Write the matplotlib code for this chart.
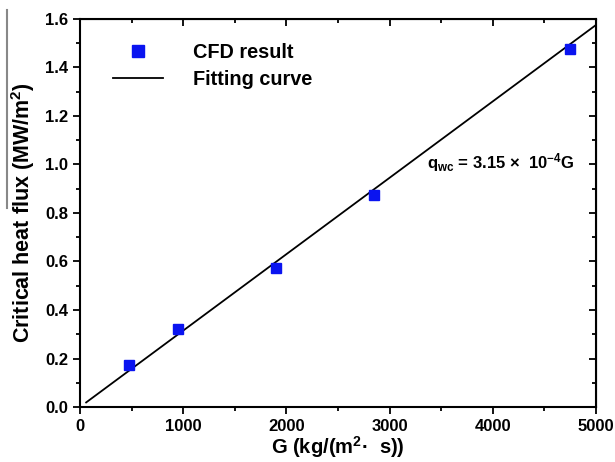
import matplotlib
matplotlib.use('Agg')
import matplotlib.pyplot as plt
from matplotlib.lines import Line2D
from matplotlib.ticker import MultipleLocator

plt.rcParams['font.family'] = ['Liberation Sans', 'DejaVu Sans']
plt.rcParams['font.weight'] = 'bold'
plt.rcParams['mathtext.fontset'] = 'custom'
plt.rcParams['mathtext.rm'] = 'Liberation Sans:bold'
plt.rcParams['mathtext.it'] = 'Liberation Sans:bold'
plt.rcParams['mathtext.bf'] = 'Liberation Sans:bold'

# CFD data
G = [475, 950, 1900, 2850, 4750]
chf = [0.175, 0.322, 0.572, 0.874, 1.476]

# fitting curve q = 3.15e-4 * G
coef = 3.15e-4
G_fit = [60, 5000]
q_fit = [coef * g for g in G_fit]

fig = plt.figure(figsize=(6.15, 4.62), dpi=100)
ax = fig.add_axes([0.130, 0.119, 0.839, 0.840])

ax.plot(G_fit, q_fit, color='black', lw=1.3, label='Fitting curve')
ax.plot(G, chf, 's', color='#0a14f0', ms=7.5, mec='#0a14f0', label='CFD result')

ax.set_xlim(0, 5000)
ax.set_ylim(0, 1.6)
ax.xaxis.set_major_locator(MultipleLocator(1000))
ax.xaxis.set_minor_locator(MultipleLocator(500))
ax.yaxis.set_major_locator(MultipleLocator(0.2))
ax.yaxis.set_minor_locator(MultipleLocator(0.1))
ax.yaxis.set_major_formatter(plt.FuncFormatter(lambda v, p: '%.1f' % v))

for s in ax.spines.values():
    s.set_linewidth(1.5)
ax.tick_params(which='both', direction='out', width=1.3, labelsize=12)
ax.tick_params(which='major', length=5)
ax.tick_params(which='minor', length=3)

# inward ticks on top and right, no labels
ax2 = ax.secondary_xaxis('top')
ax2.xaxis.set_major_locator(MultipleLocator(1000))
ax2.xaxis.set_minor_locator(MultipleLocator(500))
ax2.tick_params(which='both', direction='in', width=1.3, labeltop=False)
ax2.tick_params(which='major', length=5)
ax2.tick_params(which='minor', length=3)
ax3 = ax.secondary_yaxis('right')
ax3.yaxis.set_major_locator(MultipleLocator(0.2))
ax3.yaxis.set_minor_locator(MultipleLocator(0.1))
ax3.tick_params(which='both', direction='in', width=1.3, labelright=False)
ax3.tick_params(which='major', length=5)
ax3.tick_params(which='minor', length=3)

ax.set_xlabel(r'G (kg/(m$^{2}$·  s))', fontsize=14.5, fontweight='bold', labelpad=0)
ax.set_ylabel(r'Critical heat flux (MW/m$^{2}$)', fontsize=15.5, fontweight='bold', labelpad=6)

ax.text(0.672, 0.615, r'q$_{wc}$ = 3.15 ×  10$^{-4}$G', transform=ax.transAxes,
        fontsize=12, fontweight='bold')

handles = [Line2D([], [], ls='none', marker='s', color='#0a14f0', ms=8),
           Line2D([], [], color='black', lw=1.3)]
ax.legend(handles, ['CFD result', 'Fitting curve'], loc='upper left',
          bbox_to_anchor=(0.03, 0.985), frameon=False, fontsize=14.3,
          handlelength=2.5, handletextpad=1.5, labelspacing=0.4)

# thin gray line at the far left edge
fig.add_artist(Line2D([0.012, 0.012], [0.55, 0.978], color='#888888', lw=1.5))

fig.savefig('out.png', dpi=100)
